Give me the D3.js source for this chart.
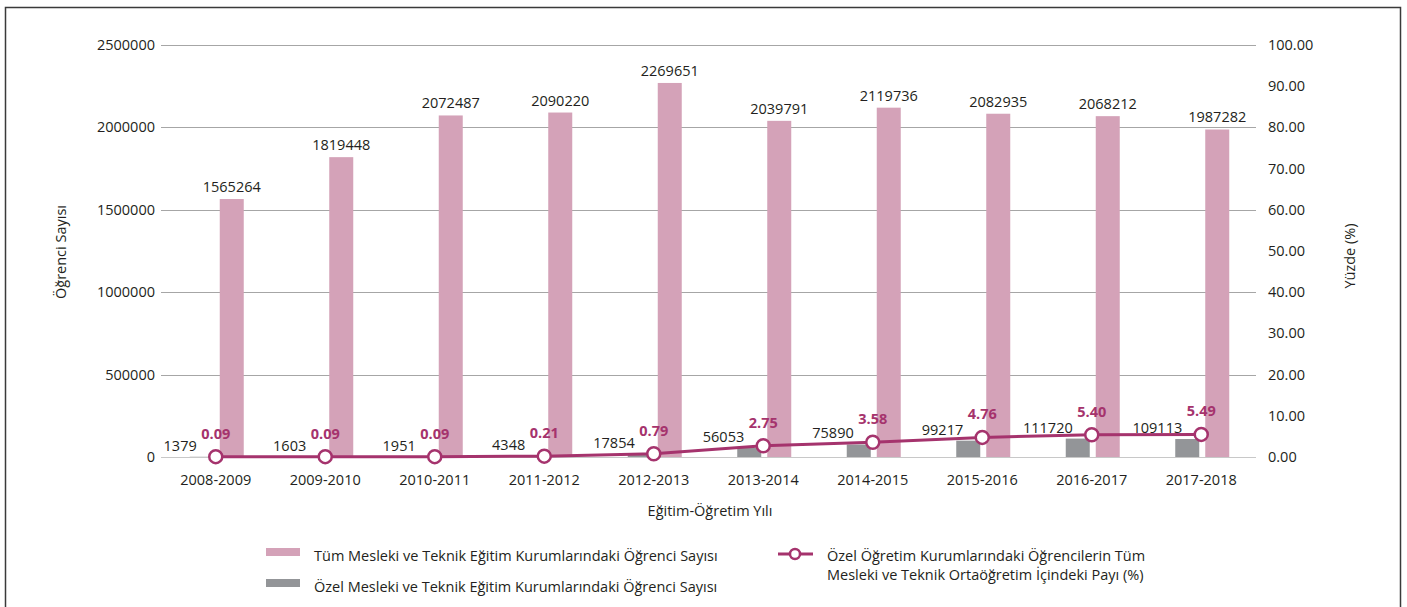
<!DOCTYPE html>
<html>
<head>
<meta charset="utf-8">
<script src="https://cdn.jsdelivr.net/npm/d3@7"></script>
<style>
  body { margin: 0; background: #fff; }
  text { font-family: "Open Sans", sans-serif; fill: #231f20; }
</style>
</head>
<body>
<div id="graph"></div>
<script>
var years = ["2008-2009", "2009-2010", "2010-2011", "2011-2012", "2012-2013",
             "2013-2014", "2014-2015", "2015-2016", "2016-2017", "2017-2018"]
var tumOgrenci = [1565264, 1819448, 2072487, 2090220, 2269651, 2039791, 2119736, 2082935, 2068212, 1987282]
var ozelOgrenci = [1379, 1603, 1951, 4348, 17854, 56053, 75890, 99217, 111720, 109113]
var ozelPay = [0.09, 0.09, 0.09, 0.21, 0.79, 2.75, 3.58, 4.76, 5.40, 5.49]
var leftTicks = [0, 500000, 1000000, 1500000, 2000000, 2500000]
var rightTicks = [0, 10, 20, 30, 40, 50, 60, 70, 80, 90, 100]

const pink = "#d4a2b8", gray = "#939598", lineCol = "#a5336d"
const width = 1407, height = 607
const plot = { left: 161, right: 1256, top: 45, bottom: 457 }
const fs = "14.5px"

const svg = d3.select("#graph")
    .append("svg")
        .attr("width", width)
        .attr("height", height)

// frame
svg.append("rect")
    .attr("x", 5.5).attr("y", 7.5)
    .attr("width", 1395).attr("height", 640)
    .attr("fill", "none").attr("stroke", "#3a3a3a").attr("stroke-width", 1.5)

const x = d3.scaleBand().domain(years).range([plot.left, plot.right])
const y = d3.scaleLinear().domain([0, 2500000]).range([plot.bottom, plot.top])
const y2 = d3.scaleLinear().domain([0, 100]).range([plot.bottom, plot.top])
// gray bar left, pink bar right inside each year band
const x1 = d3.scaleBand().domain(["ozel", "tum"])
    .range([x.bandwidth() / 2 - 26, x.bandwidth() / 2 + 28]).paddingInner(0.2)

// grid lines
svg.append("g")
    .selectAll("line")
    .data(leftTicks)
    .enter().append("line")
        .attr("x1", plot.left).attr("x2", plot.right)
        .attr("y1", d => Math.round(y(d)) + 0.5).attr("y2", d => Math.round(y(d)) + 0.5)
        .attr("stroke", d => d == 0 ? "#c8c8c8" : "#a6a6a6")
        .attr("stroke-width", 1)

// left axis labels
svg.append("g")
    .selectAll("text")
    .data(leftTicks)
    .enter().append("text")
        .attr("x", 155).attr("y", d => y(d))
        .attr("dy", "0.35em")
        .attr("text-anchor", "end")
        .style("font-size", fs)
        .text(d => d)

// right axis labels
svg.append("g")
    .selectAll("text")
    .data(rightTicks)
    .enter().append("text")
        .attr("x", 1268).attr("y", d => y2(d))
        .attr("dy", "0.35em")
        .style("font-size", fs)
        .text(d => d.toFixed(2))

// category labels
svg.append("g")
    .selectAll("text")
    .data(years)
    .enter().append("text")
        .attr("x", d => x(d) + x.bandwidth() / 2).attr("y", 485)
        .attr("text-anchor", "middle")
        .style("font-size", fs)
        .text(d => d)

// gray bars (private)
svg.append("g")
    .selectAll("rect")
    .data(ozelOgrenci)
    .enter().append("rect")
        .attr("x", (d, i) => x(years[i]) + x1("ozel"))
        .attr("y", d => y(d))
        .attr("width", x1.bandwidth())
        .attr("height", d => y(0) - y(d))
        .attr("fill", gray)

// pink bars (all)
svg.append("g")
    .selectAll("rect")
    .data(tumOgrenci)
    .enter().append("rect")
        .attr("x", (d, i) => x(years[i]) + x1("tum"))
        .attr("y", d => y(d))
        .attr("width", x1.bandwidth())
        .attr("height", d => y(0) - y(d))
        .attr("fill", pink)

// pink bar labels
svg.append("g")
    .selectAll("text")
    .data(tumOgrenci)
    .enter().append("text")
        .attr("x", (d, i) => x(years[i]) + x1("tum") + x1.bandwidth() / 2)
        .attr("y", d => y(d) - 7)
        .attr("text-anchor", "middle")
        .style("font-size", fs)
        .text(d => d)

// gray bar labels
svg.append("g")
    .selectAll("text")
    .data(ozelOgrenci)
    .enter().append("text")
        .attr("x", (d, i) => x(years[i]) + x.bandwidth() / 2 - 19)
        .attr("y", d => y(d) - 6)
        .attr("text-anchor", "end")
        .style("font-size", fs)
        .text(d => d)

// share line
const line = d3.line()
    .x((d, i) => x(years[i]) + x.bandwidth() / 2)
    .y(d => y2(d))

svg.append("path")
    .datum(ozelPay)
    .attr("fill", "none")
    .attr("stroke", lineCol)
    .attr("stroke-width", 3)
    .attr("d", line)

svg.append("g")
    .selectAll("circle")
    .data(ozelPay)
    .enter().append("circle")
        .attr("cx", (d, i) => x(years[i]) + x.bandwidth() / 2)
        .attr("cy", d => y2(d))
        .attr("r", 6.5)
        .attr("fill", "#fff")
        .attr("stroke", lineCol)
        .attr("stroke-width", 2.5)

svg.append("g")
    .selectAll("text")
    .data(ozelPay)
    .enter().append("text")
        .attr("x", (d, i) => x(years[i]) + x.bandwidth() / 2)
        .attr("y", d => y2(d) - 18)
        .attr("text-anchor", "middle")
        .style("font-size", fs)
        .style("font-weight", "bold")
        .style("fill", lineCol)
        .text(d => d.toFixed(2))

// axis titles
svg.append("text")
    .attr("transform", "translate(66, 252) rotate(-90)")
    .attr("text-anchor", "middle")
    .style("font-size", fs)
    .text("Öğrenci Sayısı")

svg.append("text")
    .attr("transform", "translate(1355, 256) rotate(-90)")
    .attr("text-anchor", "middle")
    .style("font-size", fs)
    .text("Yüzde (%)")

svg.append("text")
    .attr("x", 710).attr("y", 516)
    .attr("text-anchor", "middle")
    .style("font-size", fs)
    .text("Eğitim-Öğretim Yılı")

// legend
const legend = svg.append("g")
legend.append("rect").attr("x", 266).attr("y", 548).attr("width", 34).attr("height", 8).attr("fill", pink)
legend.append("text").attr("x", 314).attr("y", 561).style("font-size", fs)
    .text("Tüm Mesleki ve Teknik Eğitim Kurumlarındaki Öğrenci Sayısı")
legend.append("rect").attr("x", 266).attr("y", 579).attr("width", 34).attr("height", 8).attr("fill", gray)
legend.append("text").attr("x", 314).attr("y", 592).style("font-size", fs)
    .text("Özel Mesleki ve Teknik Eğitim Kurumlarındaki Öğrenci Sayısı")

legend.append("line").attr("x1", 778).attr("x2", 813).attr("y1", 554).attr("y2", 554)
    .attr("stroke", lineCol).attr("stroke-width", 3)
legend.append("circle").attr("cx", 795).attr("cy", 554).attr("r", 5)
    .attr("fill", "#fff").attr("stroke", lineCol).attr("stroke-width", 2.5)
legend.append("text").attr("x", 827).attr("y", 561).style("font-size", fs)
    .text("Özel Öğretim Kurumlarındaki Öğrencilerin Tüm")
legend.append("text").attr("x", 827).attr("y", 580).style("font-size", fs)
    .text("Mesleki ve Teknik Ortaöğretim İçindeki Payı (%)")
</script>
</body>
</html>
